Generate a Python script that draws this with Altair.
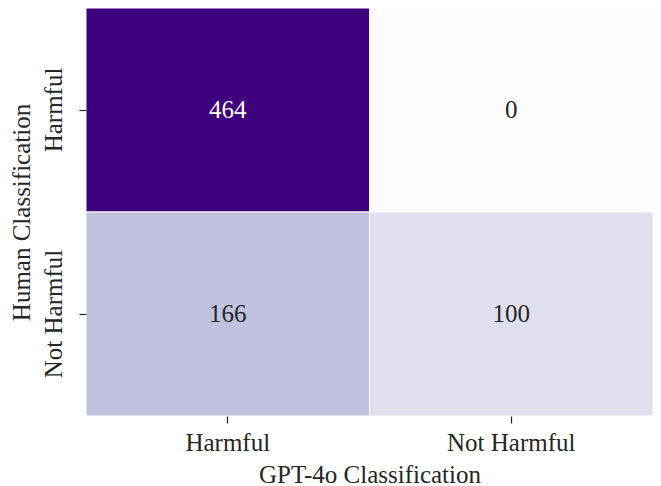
import altair as alt
import pandas as pd

gpt = ["Harmful", "Not Harmful", "Harmful", "Not Harmful"]
human = ["Harmful", "Harmful", "Not Harmful", "Not Harmful"]
counts = [464, 0, 166, 100]
order = ["Harmful", "Not Harmful"]
purples = ["#fcfbfd", "#efedf5", "#dadaeb", "#bcbddc", "#9e9ac8",
           "#807dba", "#6a51a3", "#54278f", "#3f007d"]

df = pd.DataFrame({"gpt": gpt, "human": human, "count": counts})

vmax = max(counts)
dom = [vmax * i / 8 for i in range(9)]
FONT = "Times New Roman, Liberation Serif, serif"
FS = 25

axis_common = dict(domain=False, tickSize=7, tickWidth=1.2, tickColor="#262626",
                   labelFontSize=FS, titleFontSize=FS, labelFont=FONT, titleFont=FONT,
                   titleFontWeight="normal", labelColor="#262626", titleColor="#262626")

base = alt.Chart(df).encode(
    x=alt.X("gpt:N", sort=order, title="GPT-4o Classification",
            axis=alt.Axis(labelAngle=0, labelPadding=7, titlePadding=7, **axis_common)),
    y=alt.Y("human:N", sort=order, title="Human Classification",
            axis=alt.Axis(labelAngle=-90, labelPadding=13, titlePadding=7, **axis_common)),
)

rect = base.mark_rect(stroke="white", strokeWidth=1).encode(
    color=alt.Color("count:Q", scale=alt.Scale(domain=dom, range=purples, interpolate="rgb"),
                    legend=None)
)
text = base.mark_text(font=FONT, fontSize=FS).encode(
    text="count:Q",
    color=alt.condition(alt.datum["count"] > vmax / 2, alt.value("white"), alt.value("#262626")),
)

chart = (rect + text).properties(
    width=567, height=408,
    autosize=alt.AutoSizeParams(type="none"),
    padding={"left": 78, "top": 0, "right": 0, "bottom": 70},
).configure_view(strokeWidth=0).configure_scale(bandPaddingInner=0, bandPaddingOuter=0)

chart.save("out.html", embed_options={"renderer": "svg", "actions": False})
